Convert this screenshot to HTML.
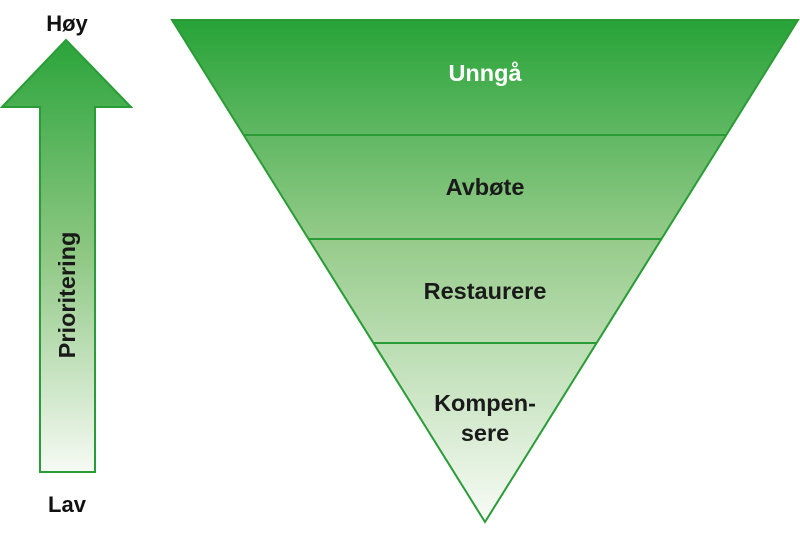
<!DOCTYPE html>
<html><head><meta charset="utf-8"><style>
html,body{margin:0;padding:0;background:#fff;width:800px;height:537px;overflow:hidden}
</style></head><body>
<svg width="800" height="537" viewBox="0 0 800 537" xmlns="http://www.w3.org/2000/svg" font-family="Liberation Sans, sans-serif" font-weight="bold">
<defs>
<linearGradient id="g" x1="0" y1="20" x2="0" y2="522" gradientUnits="userSpaceOnUse">
<stop offset="0" stop-color="#27a338"/>
<stop offset="0.45" stop-color="#98cc8c"/>
<stop offset="1" stop-color="#f8fbf6"/>
</linearGradient>
<linearGradient id="a" x1="0" y1="40" x2="0" y2="472" gradientUnits="userSpaceOnUse">
<stop offset="0" stop-color="#2aa43a"/>
<stop offset="0.5" stop-color="#8fc884"/>
<stop offset="1" stop-color="#f6faf4"/>
</linearGradient>
</defs>
<polygon points="172,20 798,20 485,522" fill="url(#g)" stroke="#2a9c37" stroke-width="2"/>
<line x1="244" y1="135" x2="726" y2="135" stroke="#2a9c37" stroke-width="2"/>
<line x1="309" y1="239" x2="661" y2="239" stroke="#2a9c37" stroke-width="2"/>
<line x1="374" y1="343" x2="596" y2="343" stroke="#2a9c37" stroke-width="2"/>
<polygon points="66,40 131,107 95,107 95,472 40,472 40,107 2,107" fill="url(#a)" stroke="#2a9c37" stroke-width="2"/>
<g font-size="23.5" text-anchor="middle">
<text x="485" y="81" fill="#fff">Unngå</text>
<text x="485" y="195" fill="#1a1a1a">Avbøte</text>
<text x="485" y="299" fill="#1a1a1a">Restaurere</text>
<text x="485" y="411" fill="#1a1a1a">Kompen-</text>
<text x="485" y="441" fill="#1a1a1a">sere</text>
<text transform="translate(75,295) rotate(-90)" fill="#1a1a1a">Prioritering</text>
</g>
<g font-size="22" text-anchor="middle">
<text x="67" y="31" fill="#111">Høy</text>
<text x="67" y="512" fill="#111">Lav</text>
</g>
</svg>
</body></html>
